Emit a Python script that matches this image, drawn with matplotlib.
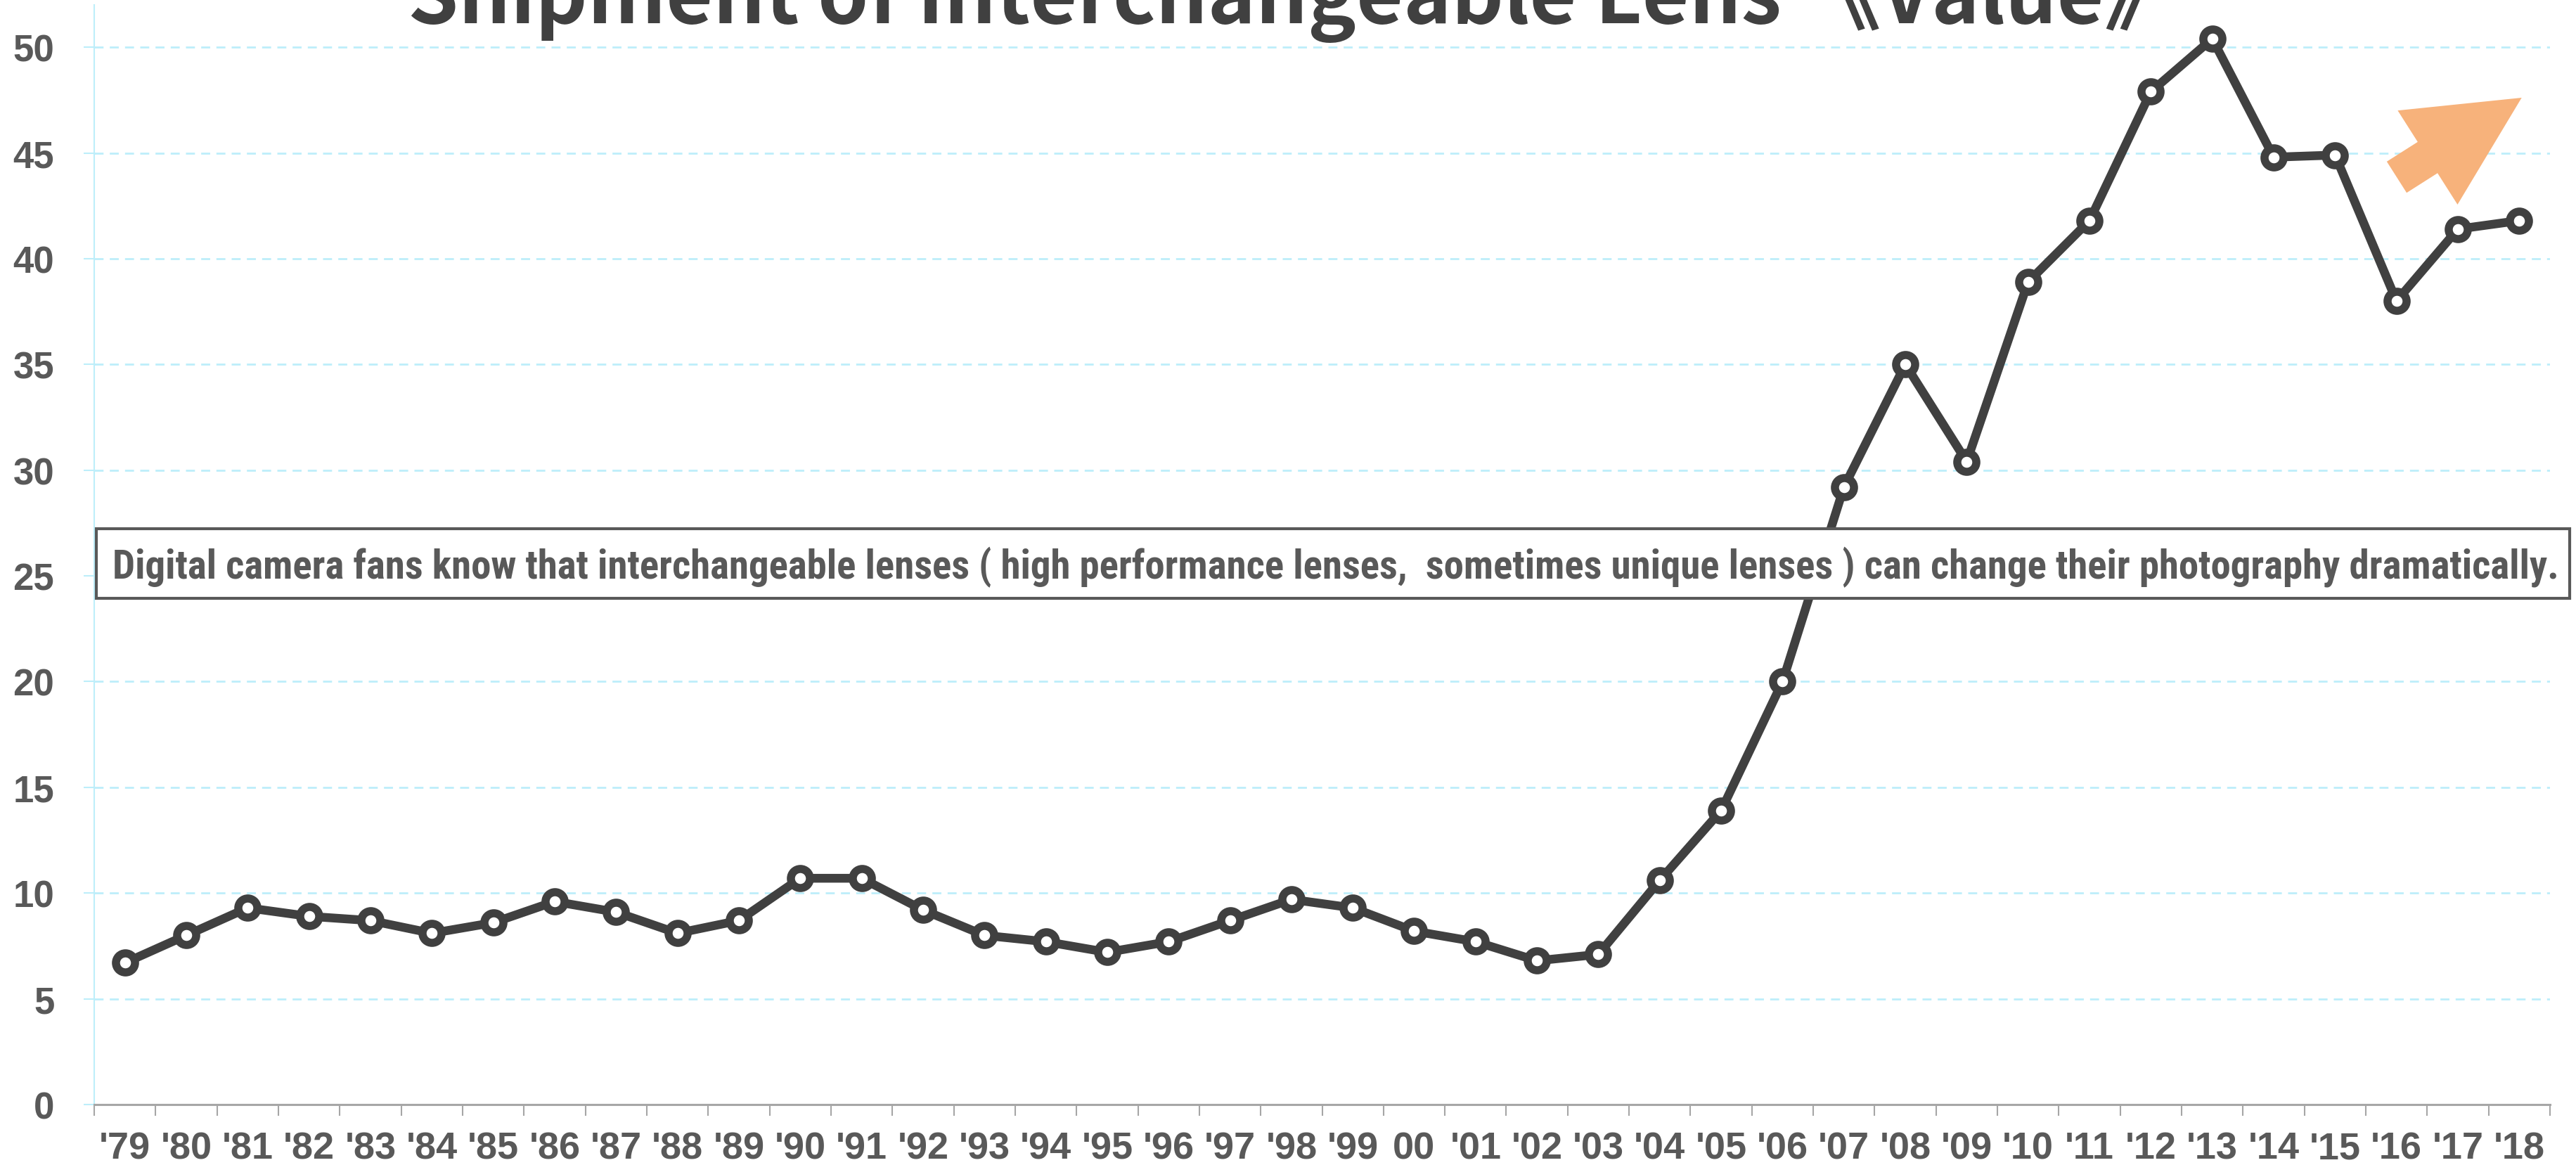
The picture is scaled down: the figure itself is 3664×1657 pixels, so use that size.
import matplotlib
matplotlib.use('Agg')
import numpy as np
import matplotlib.pyplot as plt
import matplotlib.patches as patches

# === データ ===
years = ["'79", "'80", "'81", "'82", "'83", "'84", "'85", "'86", "'87", "'88",
         "'89", "'90", "'91", "'92", "'93", "'94", "'95", "'96", "'97", "'98",
         "'99", "00", "'01", "'02", "'03", "'04", "'05", "'06", "'07", "'08",
         "'09", "'10", "'11", "'12", "'13", "'14", "'15", "'16", "'17", "'18"]
values = [6.7, 8.0, 9.3, 8.9, 8.7, 8.1, 8.6, 9.6, 9.1, 8.1,
          8.7, 10.7, 10.7, 9.2, 8.0, 7.7, 7.2, 7.7, 8.7, 9.7,
          9.3, 8.2, 7.7, 6.8, 7.1, 10.6, 13.9, 20.0, 29.2, 35.0,
          30.4, 38.9, 41.8, 47.9, 50.4, 44.8, 44.9, 38.0, 41.4, 41.8]
y_ticks = [0, 5, 10, 15, 20, 25, 30, 35, 40, 45, 50]

title = "Shipment of Interchangeable Lens 《Value》"
note = ("Digital camera fans know that interchangeable lenses ( high performance lenses,  "
        "sometimes unique lenses ) can change their photography dramatically.")

# === スタイル ===
W, H = 3664, 1658
TEXT_COLOR = '#595959'
LINE_COLOR = '#404040'
GRID_COLOR = '#BDEEFA'
AXIS_COLOR = '#A6A6A6'
ARROW_COLOR = '#F7B27B'
NARROW = ['Liberation Sans Narrow', 'Roboto Condensed', 'Open Sans Condensed',
          'DejaVu Sans Condensed', 'Liberation Sans']

fig = plt.figure(figsize=(W / 100, H / 100), dpi=100)
ax = fig.add_axes([134 / W, (H - 1572) / H, (3627 - 134) / W, (1572 - 8) / H])

x = np.arange(len(years))
ax.plot(x, values, color=LINE_COLOR, lw=9, marker='o', ms=19.5,
        mfc='white', mec=LINE_COLOR, mew=8.3, zorder=3)

ax.set_xlim(-0.5, len(years) - 0.5)
ax.set_ylim(0, 52)

# x軸: ラベルは中央、目盛りは区切り
ax.set_xticks(x)
ax.set_xticklabels(years, family=['Liberation Sans', 'DejaVu Sans'], weight='bold',
                   fontsize=39, color=TEXT_COLOR)
ax.set_xticks(np.arange(-0.5, len(years)), minor=True)
ax.tick_params(axis='x', which='major', length=0, pad=27)
ax.tick_params(axis='x', which='minor', length=11.5, width=1.5, color=AXIS_COLOR)

# y軸
ax.set_yticks(y_ticks)
ax.set_yticklabels([str(v) for v in y_ticks], family=['Liberation Sans', 'DejaVu Sans'],
                   weight='bold', fontsize=38, color=TEXT_COLOR)
ax.tick_params(axis='y', length=10.8, width=1.5, color=GRID_COLOR, pad=30)
ax.yaxis.grid(True, color=GRID_COLOR, lw=2.0, linestyle=(0, (4.6, 3.2)), zorder=0)
ax.set_axisbelow(True)

for s in ['top', 'right']:
    ax.spines[s].set_visible(False)
ax.spines['left'].set_color(GRID_COLOR)
ax.spines['left'].set_linewidth(1.5)
ax.spines['bottom'].set_color(AXIS_COLOR)
ax.spines['bottom'].set_linewidth(2.2)

# タイトル (元図と同じく上が切れている)
t_title = fig.text(1844 / W, 1 - 33 / H, title, ha='center', va='baseline',
                   fontsize=80, weight='bold', color=LINE_COLOR,
                   family=['Noto Sans CJK JP', 'DejaVu Sans'])

# 注釈ボックス
rect = patches.Rectangle((137 / W, (H - 852) / H), (3655 - 137) / W, 99 / H,
                         transform=fig.transFigure, facecolor='white',
                         edgecolor=TEXT_COLOR, lw=3, zorder=5)
fig.add_artist(rect)
t_note = fig.text(1900 / W, 1 - 823 / H, note, ha='center', va='baseline',
                  fontsize=38, weight='bold', stretch='condensed', color=TEXT_COLOR,
                  family=NARROW, zorder=6)

# 矢印
arrow = patches.FancyArrow(34.09, 14.05, 1.777, 1.13, width=0.526, head_width=1.585,
                           head_length=1.585, length_includes_head=True,
                           transform=fig.dpi_scale_trans, color=ARROW_COLOR, lw=0, zorder=4)
fig.add_artist(arrow)

# 文字幅を合わせる
fig.canvas.draw()
for t, target in [(t_title, 2528), (t_note, 3480)]:
    w = t.get_window_extent().width
    t.set_fontsize(t.get_fontsize() * target / w)

fig.savefig('out.png', dpi=100)
